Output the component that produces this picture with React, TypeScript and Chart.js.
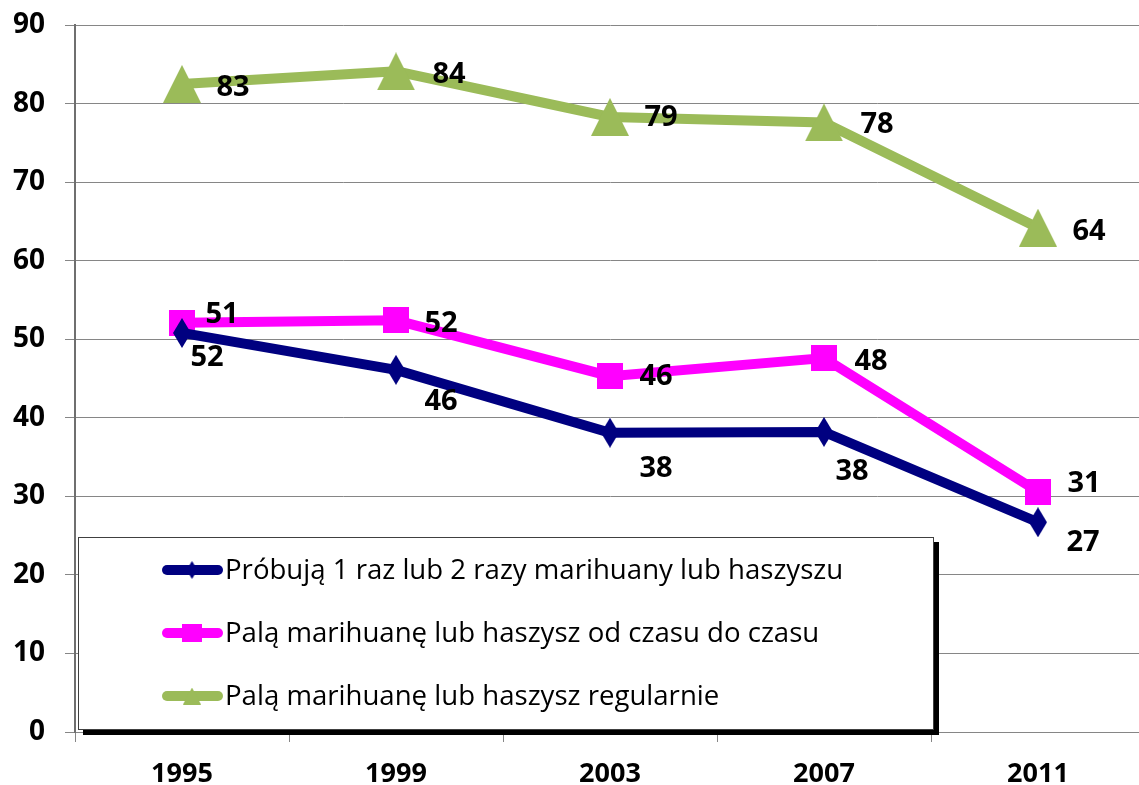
import React, { useEffect, useRef } from 'react';
import { Chart, registerables } from 'chart.js';

Chart.register(...registerables);

// ---- data ----
const years = ['1995', '1999', '2003', '2007', '2011'];
const seriesNames = [
  'Próbują 1 raz lub 2 razy marihuany lub haszyszu',
  'Palą marihuanę lub haszysz od czasu do czasu',
  'Palą marihuanę lub haszysz regularnie',
];
const tryValues = [50.8, 46.1, 38.1, 38.2, 26.7];
const occasionalValues = [52.1, 52.4, 45.3, 47.6, 30.6];
const regularValues = [82.5, 84.1, 78.3, 77.6, 64.2];
const tryLabels = ['52', '46', '38', '38', '27'];
const occasionalLabels = ['51', '52', '46', '48', '31'];
const regularLabels = ['83', '84', '79', '78', '64'];
const yMin = 0;
const yMax = 90;
const yStep = 10;

// ---- styles ----
const NAVY = '#000080';
const MAGENTA = '#FF00FF';
const GREEN = '#9BBB59';
const GRID = '#868686';
const FONT = '"Open Sans", "DejaVu Sans", sans-serif';

// label offsets (dx, dy) from the point, per series
const tryOffsets = [[25, 24], [45, 31], [46, 35], [28, 39], [45, 19]];
const occasionalOffsets = [[40, -9], [45, 2], [46, 0], [47, 3], [46, -9]];
const regularOffsets = [[51, 3], [53, 2], [51, 0], [53, 1], [51, 3]];

function makeMarker(kind: string, w: number, h: number, color: string) {
  const c = document.createElement('canvas');
  c.width = w;
  c.height = h;
  const g = c.getContext('2d')!;
  g.fillStyle = color;
  g.beginPath();
  if (kind === 'triangle') {
    g.moveTo(w / 2, 0);
    g.lineTo(w, h);
    g.lineTo(0, h);
  } else if (kind === 'diamond') {
    g.moveTo(w / 2, 0);
    g.lineTo(w, h / 2);
    g.lineTo(w / 2, h);
    g.lineTo(0, h / 2);
  } else {
    g.rect(0, 0, w, h);
  }
  g.closePath();
  g.fill();
  return c;
}

export default function App() {
  const ref = useRef<HTMLCanvasElement | null>(null);

  useEffect(() => {
    const canvas = ref.current;
    if (!canvas) return;

    const diamond = makeMarker('diamond', 18, 30, NAVY);
    const square = makeMarker('rect', 26, 26, MAGENTA);
    const triangle = makeMarker('triangle', 38, 38, GREEN);
    const diamondS = makeMarker('diamond', 11, 18, NAVY);
    const squareS = makeMarker('rect', 20, 18, MAGENTA);
    const triangleS = makeMarker('triangle', 18, 17, GREEN);

    const labelSets = [tryLabels, occasionalLabels, regularLabels];
    const offsetSets = [tryOffsets, occasionalOffsets, regularOffsets];
    const legendMarkers = [diamondS, squareS, triangleS];
    const colors = [NAVY, MAGENTA, GREEN];

    const legendPlugin = {
      id: 'boxLegend',
      beforeDatasetsDraw(chart: any) {
        const ctx = chart.ctx;
        const area = chart.chartArea;
        const x0 = area.left + 3;
        const y0 = 537;
        const w = 855;
        const h = area.bottom - 3 - y0;
        ctx.save();
        ctx.fillStyle = '#000';
        ctx.fillRect(x0 + 5, y0 + 5, w + 1, h + 1);
        ctx.fillStyle = '#fff';
        ctx.fillRect(x0, y0, w, h);
        ctx.strokeStyle = '#404040';
        ctx.lineWidth = 1;
        ctx.strokeRect(x0 + 0.5, y0 + 0.5, w, h);
        const rows = [570, 633, 696];
        rows.forEach((ry, i) => {
          ctx.strokeStyle = colors[i];
          ctx.lineWidth = 10;
          ctx.lineCap = 'round';
          ctx.beginPath();
          ctx.moveTo(167, ry);
          ctx.lineTo(218, ry);
          ctx.stroke();
          const m = legendMarkers[i];
          ctx.drawImage(m, 192 - m.width / 2, ry - m.height / 2);
          ctx.fillStyle = '#000';
          ctx.font = `27.6px ${FONT}`;
          ctx.textAlign = 'left';
          ctx.textBaseline = 'middle';
          ctx.fillText(seriesNames[i], 225, ry + 1);
        });
        ctx.restore();
      },
    };

    const labelPlugin = {
      id: 'valueLabels',
      afterDatasetsDraw(chart: any) {
        const ctx = chart.ctx;
        ctx.save();
        ctx.fillStyle = '#000';
        ctx.font = `bold 29px ${FONT}`;
        ctx.textAlign = 'center';
        ctx.textBaseline = 'middle';
        chart.data.datasets.forEach((ds: any, di: number) => {
          const meta = chart.getDatasetMeta(di);
          meta.data.forEach((pt: any, i: number) => {
            const [dx, dy] = offsetSets[di][i];
            ctx.fillText(labelSets[di][i], pt.x + dx, pt.y + dy + 1);
          });
        });
        ctx.restore();
      },
    };

    const chart = new Chart(canvas, {
      type: 'line',
      data: {
        labels: years,
        datasets: [
          {
            label: seriesNames[0],
            data: tryValues,
            borderColor: NAVY,
            backgroundColor: NAVY,
            borderWidth: 10,
            pointStyle: diamond as any,
            pointRadius: 5,
            tension: 0,
          },
          {
            label: seriesNames[1],
            data: occasionalValues,
            borderColor: MAGENTA,
            backgroundColor: MAGENTA,
            borderWidth: 10,
            pointStyle: square as any,
            pointRadius: 5,
            tension: 0,
          },
          {
            label: seriesNames[2],
            data: regularValues,
            borderColor: GREEN,
            backgroundColor: GREEN,
            borderWidth: 10,
            pointStyle: triangle as any,
            pointRadius: 5,
            tension: 0,
          },
        ],
      },
      options: {
        animation: false,
        responsive: false,
        devicePixelRatio: 1,
        layout: { padding: { top: 25, left: 0, right: 10, bottom: 0 } },
        plugins: {
          legend: { display: false },
          tooltip: { enabled: false },
        },
        scales: {
          x: {
            offset: true,
            grid: {
              offset: true,
              drawOnChartArea: false,
              drawTicks: true,
              tickLength: 10,
              color: GRID,
            },
            border: { display: true, color: GRID, width: 1 },
            ticks: {
              color: '#000',
              font: { family: FONT, size: 27, weight: 'bold' },
              padding: 16,
            },
            afterFit(scale: any) {
              scale.height = 53;
            },
          },
          y: {
            min: yMin,
            max: yMax,
            ticks: {
              stepSize: yStep,
              color: '#000',
              font: { family: FONT, size: 28, weight: 'bold' },
              padding: 20,
            },
            grid: {
              color: GRID,
              drawTicks: true,
              tickLength: 10,
              lineWidth: 1,
            },
            border: { display: true, color: '#6f6f6f', width: 2 },
            afterFit(scale: any) {
              scale.width = 75;
              scale.paddingTop = 0;
              scale.paddingBottom = 0;
            },
          },
        },
      },
      plugins: [legendPlugin, labelPlugin],
    });

    return () => chart.destroy();
  }, []);

  return (
    <div
      style={{
        position: 'fixed',
        left: 0,
        top: 0,
        width: 1139,
        height: 785,
        overflow: 'hidden',
        background: '#fff',
      }}
    >
      <canvas ref={ref} width={1160} height={785} />
    </div>
  );
}
